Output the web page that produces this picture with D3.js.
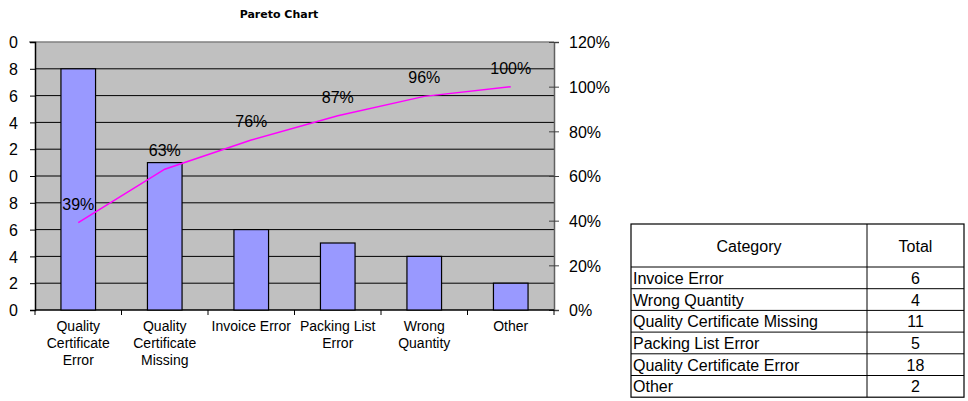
<!DOCTYPE html>
<html lang="en">
<head>
<meta charset="UTF-8" />
<title>Pareto Chart</title>
<script src="https://d3js.org/d3.v7.min.js"></script>
<style>
  body { margin: 0; background: #fff; }
  text { font-family: Arial, "Liberation Sans", sans-serif; fill: #000; }
</style>
</head>
<body>
<svg id="svg" width="968" height="401"></svg>
<script>
// chart data (sorted, largest first)
const categories = ['Quality Certificate Error', 'Quality Certificate Missing', 'Invoice Error', 'Packing List Error', 'Wrong Quantity', 'Other']
const counts = [18, 11, 6, 5, 4, 2]
// label lines under the x axis
const catLines = [['Quality', 'Certificate', 'Error'], ['Quality', 'Certificate', 'Missing'], ['Invoice Error'], ['Packing List', 'Error'], ['Wrong', 'Quantity'], ['Other']]
const leftTicks = [0, 2, 4, 6, 8, 10, 12, 14, 16, 18, 20]
const rightTicks = [0, 20, 40, 60, 80, 100, 120]

// table data (original order)
const tableCategories = ['Invoice Error', 'Wrong Quantity', 'Quality Certificate Missing', 'Packing List Error', 'Quality Certificate Error', 'Other']
const tableTotals = [6, 4, 11, 5, 18, 2]

const total = d3.sum(counts)
const cumPct = Array.from(d3.cumsum(counts), v => v / total * 100)

const svg = d3.select('#svg')
const pLeft = 35, pRight = 554, pTop = 42, pBottom = 310

const x = d3.scaleBand().domain(d3.range(categories.length)).range([pLeft, pRight]).paddingInner(0.6).paddingOuter(0.3)
const step = (pRight - pLeft) / categories.length
const y = d3.scaleLinear().domain([0, 20]).range([pBottom, pTop])
const y2 = d3.scaleLinear().domain([0, 120]).range([pBottom, pTop])

// title
svg.append('text').attr('x', 279).attr('y', 18).attr('text-anchor', 'middle')
  .style('font-family', '"DejaVu Sans", Verdana, sans-serif').style('font-weight', 'bold').style('font-size', '11px')
  .text('Pareto Chart')

// plot background
svg.append('rect').attr('x', pLeft).attr('y', pTop).attr('width', pRight - pLeft).attr('height', pBottom - pTop).attr('fill', '#c0c0c0')

// gridlines
svg.append('g').selectAll('line').data(leftTicks.slice(1, -1)).join('line')
  .attr('x1', pLeft).attr('x2', pRight).attr('y1', d => y(d)).attr('y2', d => y(d))
  .attr('stroke', '#000').attr('stroke-width', 1)
svg.append('line').attr('x1', pLeft - 6).attr('x2', pRight).attr('y1', pTop).attr('y2', pTop).attr('stroke', '#808080').attr('stroke-width', 1.5)

// left axis (labels clipped at the page edge like the original)
svg.append('defs').append('clipPath').attr('id', 'leftclip')
  .append('rect').attr('x', 9 - pLeft).attr('y', 0).attr('width', 60).attr('height', 401)
const yAxis = svg.append('g').attr('transform', `translate(${pLeft},0)`)
  .call(d3.axisLeft(y).tickValues(leftTicks).tickSize(5).tickPadding(12))
yAxis.select('.domain').attr('stroke', '#000').attr('stroke-width', 1.5)
yAxis.selectAll('.tick line').attr('stroke', '#000')
yAxis.selectAll('.tick text').style('font-size', '16px').style('font-family', 'Arial, "Liberation Sans", sans-serif')
  .attr('dy', '0.36em').attr('x', -17)
yAxis.attr('clip-path', 'url(#leftclip)')

// right axis
const y2Axis = svg.append('g').attr('transform', `translate(${pRight},0)`)
  .call(d3.axisRight(y2).tickValues(rightTicks).tickFormat(d => d + '%').tickSize(5).tickPadding(10))
y2Axis.select('.domain').attr('stroke', '#606060').attr('stroke-width', 1.5)
y2Axis.selectAll('.tick line').attr('stroke', '#404040').attr('x1', -5)
y2Axis.selectAll('.tick text').style('font-size', '16px').style('font-family', 'Arial, "Liberation Sans", sans-serif').attr('dy', '0.36em')

// bottom axis line + category ticks
svg.append('line').attr('x1', pLeft).attr('x2', pRight).attr('y1', pBottom).attr('y2', pBottom).attr('stroke', '#000').attr('stroke-width', 1.5)
svg.append('g').selectAll('line').data(d3.range(categories.length + 1)).join('line')
  .attr('x1', i => pLeft + i * step).attr('x2', i => pLeft + i * step)
  .attr('y1', pBottom).attr('y2', pBottom + 5).attr('stroke', '#000')

// bars
svg.append('g').selectAll('rect').data(counts).join('rect')
  .attr('x', (d, i) => x(i)).attr('y', d => y(d))
  .attr('width', x.bandwidth()).attr('height', d => y(0) - y(d))
  .attr('fill', '#9999ff').attr('stroke', '#000').attr('stroke-width', 1.2)

// category labels
const cx = i => x(i) + x.bandwidth() / 2
svg.append('g').selectAll('text').data(catLines).join('text')
  .attr('text-anchor', 'middle').style('font-size', '14px')
  .each(function (lines, i) {
    d3.select(this).selectAll('tspan').data(lines).join('tspan')
      .attr('x', cx(i)).attr('y', (l, j) => 331 + j * 17).text(l => l)
  })

// cumulative line
const line = d3.line().x((d, i) => cx(i)).y(d => y2(d))
svg.append('path').datum(cumPct).attr('d', line).attr('fill', 'none').attr('stroke', '#ff00ff').attr('stroke-width', 1.5)
svg.append('g').selectAll('text').data(cumPct).join('text')
  .attr('x', (d, i) => cx(i)).attr('y', d => y2(d) - 13)
  .attr('text-anchor', 'middle').style('font-size', '16px')
  .text(d => Math.round(d) + '%')

// table
const tLeft = 631, tRight = 964, tDiv = 867, tTop = 224, headH = 43, rowH = 21.7
const tbl = svg.append('g')
const tBottom = tTop + headH + rowH * tableCategories.length
tbl.append('rect').attr('x', tLeft).attr('y', tTop).attr('width', tRight - tLeft).attr('height', tBottom - tTop)
  .attr('fill', '#fff').attr('stroke', '#000').attr('stroke-width', 1.2)
tbl.append('line').attr('x1', tDiv).attr('x2', tDiv).attr('y1', tTop).attr('y2', tBottom).attr('stroke', '#000')
tbl.selectAll('line.row').data(d3.range(tableCategories.length)).join('line').attr('class', 'row')
  .attr('x1', tLeft).attr('x2', tRight)
  .attr('y1', i => tTop + headH + i * rowH).attr('y2', i => tTop + headH + i * rowH)
  .attr('stroke', '#000')
tbl.append('text').attr('x', (tLeft + tDiv) / 2).attr('y', tTop + headH / 2 + 6).attr('text-anchor', 'middle').style('font-size', '16px').text('Category')
tbl.append('text').attr('x', (tDiv + tRight) / 2).attr('y', tTop + headH / 2 + 6).attr('text-anchor', 'middle').style('font-size', '16px').text('Total')
tbl.selectAll('text.cat').data(tableCategories).join('text').attr('class', 'cat')
  .attr('x', tLeft + 2).attr('y', (d, i) => tTop + headH + i * rowH + rowH / 2 + 6)
  .style('font-size', '16px').text(d => d)
tbl.selectAll('text.tot').data(tableTotals).join('text').attr('class', 'tot')
  .attr('x', (tDiv + tRight) / 2).attr('y', (d, i) => tTop + headH + i * rowH + rowH / 2 + 6)
  .attr('text-anchor', 'middle').style('font-size', '16px').text(d => d)
</script>
</body>
</html>
